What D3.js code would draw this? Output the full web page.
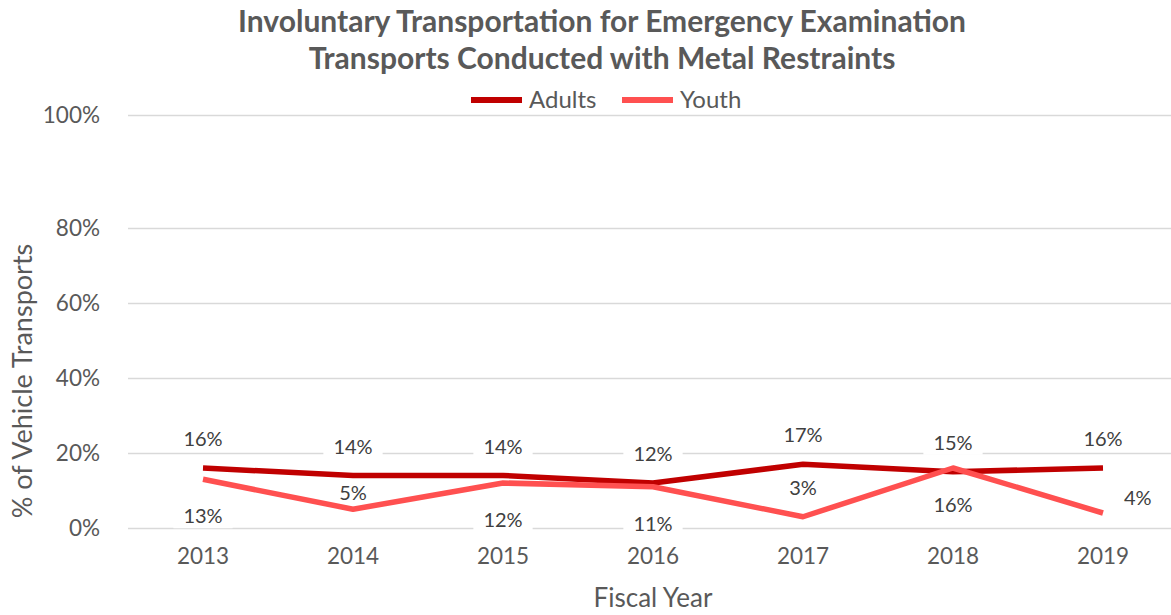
<!DOCTYPE html>
<html>
<head>
<meta charset="utf-8">
<script src="https://cdn.jsdelivr.net/npm/d3@7"></script>
<style>
	body { margin: 0; background: #fff; }
	svg { display: block; font-family: Lato, "Open Sans", sans-serif; }
</style>
</head>
<body>
<svg class="chart"></svg>
<script>
var years = ["2013", "2014", "2015", "2016", "2017", "2018", "2019"];
var adults = [0.16, 0.14, 0.14, 0.12, 0.17, 0.15, 0.16];
var youth = [0.13, 0.05, 0.12, 0.11, 0.03, 0.16, 0.04];
var yTicks = [0, 0.2, 0.4, 0.6, 0.8, 1];

// where each data label sits relative to its point
var adultsLabelPos = ["above", "above", "above", "above", "above", "above", "above"];
var youthLabelPos = ["below", "near", "below", "below", "above", "below", "right"];

var width = 1171,
	height = 615,
	left = 128,
	bottom = 528,
	textColor = "#595959";

var offsets = {
	above: [0, -29],
	below: [0, 37],
	near: [0, -16],
	right: [21, -15]
};

var svg = d3.select(".chart")
	.attr("width", width)
	.attr("height", height);

var x = d3.scaleBand()
	.domain(years)
	.range([left, left + 150 * years.length]);

// the top gridline sits higher than the even 20% steps below it
var y = d3.scaleLinear()
	.domain([0, 0.8, 1])
	.range([bottom, 228, 115]);

var cx = function(i) { return x(years[i]) + x.bandwidth() / 2; };

// title
svg.append("g").selectAll("text")
	.data(["Involuntary Transportation for Emergency Examination", "Transports Conducted with Metal Restraints"])
	.enter().append("text")
	.attr("x", 602)
	.attr("y", function(d, i) { return 32 + i * 37; })
	.attr("text-anchor", "middle")
	.attr("fill", textColor)
	.style("font-size", "30px")
	.style("font-weight", "bold")
	.text(function(d) { return d; });

// legend
var legend = svg.append("g").selectAll("g")
	.data([{ name: "Adults", color: "#C00000", x: 471 }, { name: "Youth", color: "#FF5050", x: 622 }])
	.enter().append("g")
	.attr("transform", function(d) { return "translate(" + d.x + ",100)"; });

legend.append("line")
	.attr("x1", 0).attr("x2", 51)
	.attr("stroke", function(d) { return d.color; })
	.attr("stroke-width", 6);

legend.append("text")
	.attr("x", 58)
	.attr("dy", ".35em")
	.attr("fill", textColor)
	.style("font-size", "24px")
	.text(function(d) { return d.name; });

// y axis + gridlines
var yAxis = svg.append("g")
	.attr("transform", "translate(" + left + ",0)")
	.call(d3.axisLeft(y)
		.tickValues(yTicks)
		.tickSize(-(x.range()[1] - left))
		.tickPadding(28)
		.tickFormat(d3.format(".0%")));

yAxis.select(".domain").remove();
yAxis.selectAll(".tick line").attr("stroke", "#D9D9D9").attr("stroke-width", 1.5);
yAxis.selectAll(".tick text")
	.attr("fill", textColor)
	.style("font-size", "22.5px")
	.style("font-family", "Lato, sans-serif");

// x axis
var xAxis = svg.append("g")
	.attr("transform", "translate(0," + bottom + ")")
	.call(d3.axisBottom(x).tickSize(0).tickPadding(20));

xAxis.select(".domain").remove();
xAxis.selectAll(".tick text")
	.attr("fill", textColor)
	.style("font-size", "22.5px")
	.style("font-family", "Lato, sans-serif");

// axis titles
svg.append("text")
	.attr("x", 653)
	.attr("y", 607)
	.attr("text-anchor", "middle")
	.attr("fill", textColor)
	.style("font-size", "26px")
	.text("Fiscal Year");

svg.append("text")
	.attr("transform", "translate(32,381) rotate(-90)")
	.attr("text-anchor", "middle")
	.attr("fill", textColor)
	.style("font-size", "27px")
	.text("% of Vehicle Transports");

var series = [
	{ name: "Adults", values: adults, pos: adultsLabelPos, color: "#C00000" },
	{ name: "Youth", values: youth, pos: youthLabelPos, color: "#FF5050" }
];

var labels = [];
series.forEach(function(s) {
	s.values.forEach(function(v, i) {
		var o = offsets[s.pos[i]];
		labels.push({
			text: Math.round(v * 100) + "%",
			lx: cx(i) + o[0],
			ly: y(v) + o[1],
			anchor: s.pos[i] == "right" ? "start" : "middle"
		});
	});
});

// label backgrounds cut the gridlines
var boxes = svg.append("g");
var lines = svg.append("g");
var labelText = svg.append("g");

var line = d3.line()
	.x(function(d, i) { return cx(i); })
	.y(function(d) { return y(d); });

lines.selectAll("path")
	.data(series)
	.enter().append("path")
	.attr("d", function(d) { return line(d.values); })
	.attr("fill", "none")
	.attr("stroke", function(d) { return d.color; })
	.attr("stroke-width", 5.5)
	.attr("stroke-linejoin", "round");

var t = labelText.selectAll("text")
	.data(labels)
	.enter().append("text")
	.attr("x", function(d) { return d.lx; })
	.attr("y", function(d) { return d.ly; })
	.attr("dy", ".35em")
	.attr("text-anchor", function(d) { return d.anchor; })
	.attr("fill", "#404040")
	.style("font-size", "20px")
	.text(function(d) { return d.text; });

t.each(function(d) {
	var b = this.getBBox();
	boxes.append("rect")
		.attr("x", b.x - 10)
		.attr("y", d.ly - 12)
		.attr("width", b.width + 20)
		.attr("height", 24)
		.attr("fill", "#fff");
});
</script>
</body>
</html>
